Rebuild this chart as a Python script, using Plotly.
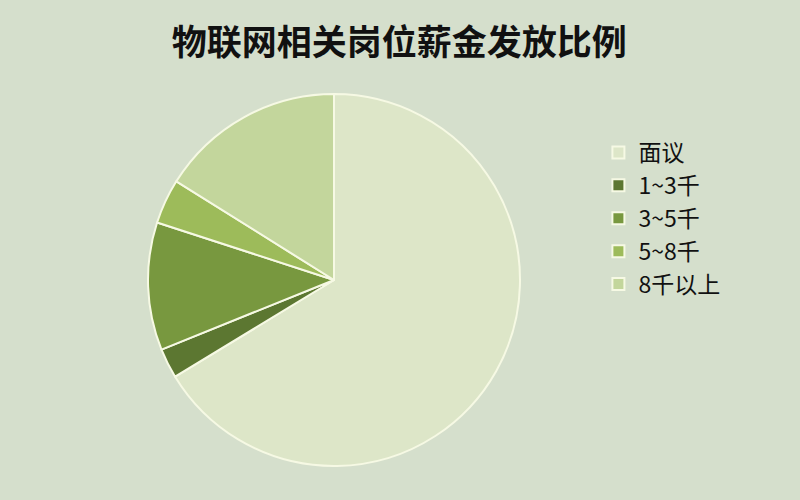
import plotly.graph_objects as go

# salary ranges and their share (%)
labels = ["面议", "1~3千", "3~5千", "5~8千", "8千以上"]
shares = [66.3, 2.6, 11.1, 3.9, 16.1]
slice_colors = ["#dde6c8", "#5c7731", "#78983f", "#9dbb5a", "#c3d69c"]

BG = "#d5dfcc"

fig = go.Figure(
    go.Pie(
        labels=labels,
        values=shares,
        sort=False,
        direction="clockwise",
        rotation=0,
        textinfo="none",
        hoverinfo="label+percent",
        marker=dict(colors=slice_colors, line=dict(color="#f6f9e4", width=2)),
        domain=dict(x=[0.185, 0.65], y=[0.068, 0.812]),
    )
)

fig.update_layout(
    width=800,
    height=500,
    paper_bgcolor=BG,
    plot_bgcolor=BG,
    margin=dict(l=0, r=0, t=0, b=0),
    font=dict(family="Noto Sans CJK SC", color="#111111"),
    title=dict(
        text="<b>物联网相关岗位薪金发放比例</b>",
        x=0.499,
        xanchor="center",
        y=0.915,
        yanchor="middle",
        font=dict(size=35, color="#111111"),
    ),
    legend=dict(
        x=0.748,
        xanchor="left",
        y=0.738,
        yanchor="top",
        bgcolor="rgba(0,0,0,0)",
        font=dict(size=23),
        itemwidth=30,
    ),
)

# drop the default page margin so the figure fills the window
fig.write_html(
    "out.html",
    config={"displayModeBar": False},
    post_script="document.body.style.margin='0';"
    "document.body.style.background='" + BG + "';",
)
